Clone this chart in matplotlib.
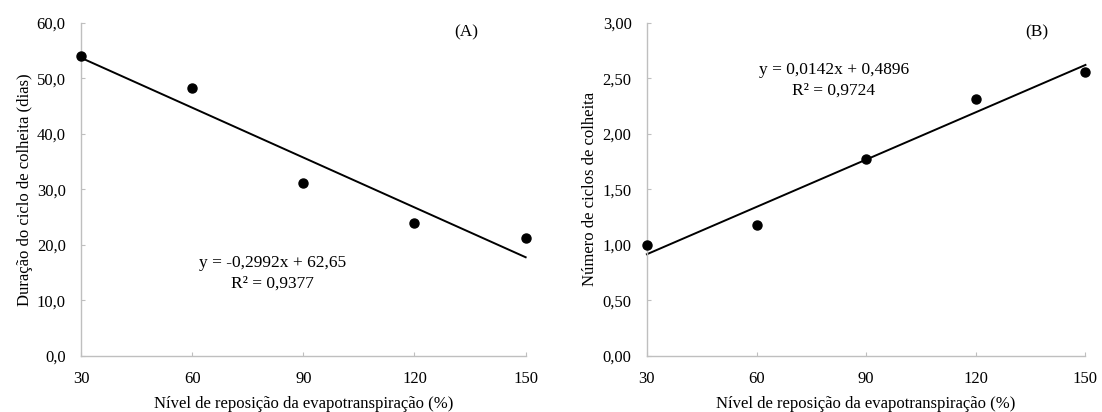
import matplotlib
matplotlib.use("Agg")
import matplotlib.pyplot as plt
import numpy as np

x_levels = [30, 60, 90, 120, 150]
duracao = [54.0, 48.2, 31.1, 24.0, 21.2]
ciclos = [1.00, 1.18, 1.77, 2.31, 2.56]

coef_a = (-0.2992, 62.65)
coef_b = (0.0142, 0.4896)

xticks = [30, 60, 90, 120, 150]
yticks_a = [0, 10, 20, 30, 40, 50, 60]
yticks_b = [0, 0.5, 1.0, 1.5, 2.0, 2.5, 3.0]

plt.rcParams['font.family'] = ['Liberation Serif', 'DejaVu Serif']
fs = 12
fs_eq = 12.5
spine_col = '#BFBFBF'

fig = plt.figure(figsize=(11.02, 4.12), dpi=100)
axA = fig.add_axes([0.0735, 0.136, 0.4035, 0.809])
axB = fig.add_axes([0.587, 0.136, 0.398, 0.809])

def style(ax, yticks, fmt, ylabel):
    ax.set_xlim(30, 150)
    ax.set_ylim(yticks[0], yticks[-1])
    ax.set_xticks(xticks)
    ax.set_yticks(yticks)
    ax.set_xticklabels([str(v) for v in xticks], fontsize=fs)
    ax.set_yticklabels([fmt(v) for v in yticks], fontsize=fs)
    for s in ['top', 'right']:
        ax.spines[s].set_visible(False)
    for s in ['left', 'bottom']:
        ax.spines[s].set_color(spine_col)
        ax.spines[s].set_linewidth(1.0)
    ax.tick_params(axis='both', direction='in', length=3, color=spine_col)
    ax.tick_params(axis='x', pad=11)
    ax.tick_params(axis='y', pad=11)
    ax.set_xlabel('Nível de reposição da evapotranspiração (%)', fontsize=fs, labelpad=6)
    ax.set_ylabel(ylabel, fontsize=fs, labelpad=3)

xs = np.array([30, 150])

style(axA, yticks_a, lambda v: f"{v:.1f}".replace('.', ','), 'Duração do ciclo de colheita (dias)')
axA.plot(xs, coef_a[0] * xs + coef_a[1], color='black', lw=1.4, clip_on=False)
axA.plot(x_levels, duracao, 'o', color='black', ms=6.5, clip_on=False, zorder=5)
axA.text(81.7, 16.7, 'y = -0,2992x + 62,65', ha='center', va='center', fontsize=fs_eq)
axA.text(81.7, 13.1, 'R² = 0,9377', ha='center', va='center', fontsize=fs_eq)
axA.text(133.9, 58.2, '(A)', ha='center', va='center', fontsize=fs_eq)

style(axB, yticks_b, lambda v: f"{v:.2f}".replace('.', ','), 'Número de ciclos de colheita')
axB.plot(xs, coef_b[0] * xs + coef_b[1], color='black', lw=1.4, clip_on=False)
axB.plot(x_levels, ciclos, 'o', color='black', ms=6.5, clip_on=False, zorder=5)
axB.text(81.2, 2.57, 'y = 0,0142x + 0,4896', ha='center', va='center', fontsize=fs_eq)
axB.text(81.2, 2.39, 'R² = 0,9724', ha='center', va='center', fontsize=fs_eq)
axB.text(136.7, 2.91, '(B)', ha='center', va='center', fontsize=fs_eq)

fig.savefig('out.png', dpi=100)
